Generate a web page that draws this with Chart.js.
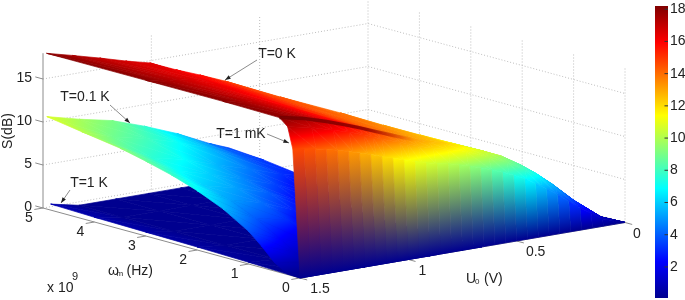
<!DOCTYPE html>
<html lang="en">
<head>
    <meta charset="UTF-8">
    <title>S(dB) surface</title>
    <script src="https://cdn.jsdelivr.net/npm/chart.js"></script>
    <style>
        html, body { margin: 0; padding: 0; background: #fff; }
        #box { position: relative; width: 685px; height: 300px; }
    </style>
</head>
<body>
<div id="box"><canvas id="surfaceChart"></canvas></div>
<script>
// axis ticks
const uTicks = [1.5, 1, 0.5, 0];
const omegaTicks = [0, 1, 2, 3, 4, 5];      // x 10^9 Hz
const sTicks = [0, 5, 10, 15];
const colorbarTicks = [2, 4, 6, 8, 10, 12, 14, 16, 18];
const colorbarRange = [0.07, 18.2];

// steep wall at low frequency: S climbs from 0 at omega = 0 to wallS at wallOmega
const wallU = [1.5, 1.45, 1.4, 1.35, 1.3, 1.25, 1.2, 1.15, 1.1, 1.05, 1, 0.95, 0.9, 0.85, 0.8, 0.75, 0.7, 0.65, 0.6, 0.55, 0.5, 0.45, 0.4, 0.35, 0.3, 0.25, 0.2, 0.15, 0.1, 0.05, 0];
const wallOmega = [0.14, 0.133, 0.127, 0.121, 0.116, 0.111, 0.106, 0.1, 0.094, 0.091, 0.087, 0.083, 0.079, 0.075, 0.071, 0.07, 0.07, 0.07, 0.07, 0.064, 0.059, 0.054, 0.053, 0.052, 0.049, 0.041, 0.033, 0.025, 0.014, 0.007, 0];
const wallS = [14.76, 14.56, 14.37, 14.09, 13.8, 13.44, 13.07, 12.69, 12.25, 11.84, 11.46, 11.04, 10.68, 10.38, 10.15, 9.82, 9.46, 9.03, 8.6, 8.1, 7.55, 6.93, 6.17, 5.35, 4.47, 3.47, 2.5, 1.67, 0.82, 0.41, 0];

// T=0 K / T=1 mK sheet above the wall: one row per U0
const topU = [1.5, 1.395, 1.3, 1.23, 1.164, 1.125, 1.085, 1.005, 0.97, 0.92, 0.855, 0.79, 0.705, 0.6, 0.52, 0.44, 0.37, 0.3, 0.21, 0.1, 0];
const topOmega = [
    [0.14, 0.24, 0.4, 1.5, 3, 4.93],
    [0.126, 0.216, 0.36, 1.5, 3, 4.87],
    [0.116, 0.198, 0.33, 1.75, 3.25, 4.74],
    [0.109, 0.186, 0.31, 1.75, 3.25, 4.53],
    [0.102, 0.174, 0.29, 1.5, 3, 4.34],
    [0.096, 0.165, 0.275, 1.5, 2.75, 4.0],
    [0.093, 0.159, 0.265, 1.25, 2.5, 3.7],
    [0.088, 0.15, 0.25, 1.25, 2.5, 3.55],
    [0.084, 0.144, 0.24, 1, 1.75, 2.62],
    [0.081, 0.138, 0.23, 0.7, 1.15, 1.66],
    [0.075, 0.129, 0.215, 0.5, 0.8, 1.1],
    [0.07, 0.12, 0.2, 0.35, 0.5, 0.66],
    [0.07, 0.12, 0.2, 0.275, 0.35, 0.45],
    [0.07, 0.12, 0.2, 0.235, 0.27, 0.305],
    [0.061, 0.105, 0.175, 0.195, 0.215, 0.24],
    [0.053, 0.09, 0.15, 0.165, 0.175, 0.19],
    [0.053, 0.09, 0.15, 0.165, 0.18, 0.2],
    [0.049, 0.084, 0.14, 0.15, 0.16, 0.175],
    [0.035, 0.06, 0.1, 0.11, 0.12, 0.13],
    [0.014, 0.024, 0.04, 0.043, 0.047, 0.05],
    [0, 0, 0, 0, 0, 0]
];
const topS = [
    [14.76, 17.2, 18, 18.1, 18.1, 18.1],
    [14.35, 16.7, 17.5, 17.5, 17.5, 17.5],
    [13.8, 16, 16.8, 16.9, 17, 17],
    [13.3, 15.5, 16.2, 16.4, 16.6, 16.7],
    [12.8, 14.9, 15.6, 15.8, 16.2, 16.5],
    [12.5, 14.5, 15.2, 15.4, 15.8, 16.1],
    [12.1, 14.1, 14.8, 15, 15.4, 15.8],
    [11.5, 13.4, 14, 14.3, 14.7, 15],
    [11.2, 13.1, 13.7, 14, 14.3, 14.5],
    [10.8, 12.6, 13.2, 13.5, 13.8, 14],
    [10.4, 12.1, 12.7, 12.9, 13.1, 13.2],
    [10.1, 11.7, 12.3, 12.4, 12.45, 12.5],
    [9.5, 11.1, 11.6, 11.6, 11.6, 11.6],
    [8.6, 10, 10.5, 10.5, 10.5, 10.5],
    [7.8, 9.07, 9.5, 9.55, 9.6, 9.6],
    [6.8, 7.85, 8.2, 8.25, 8.3, 8.3],
    [5.7, 6.64, 6.95, 7, 7, 7],
    [4.47, 5.2, 5.45, 5.5, 5.5, 5.5],
    [2.67, 3.1, 3.25, 3.3, 3.3, 3.3],
    [0.82, 0.955, 1, 1, 1, 1],
    [0, 0, 0, 0, 0, 0]
];

// darker crest where the T=1 mK sheet leaves the T=0 K one
const crestU = [1.5, 1.395, 1.3, 1.23, 1.164, 1.085, 1.005, 0.92];
const crestOmega = [0.4, 0.36, 0.33, 0.31, 0.29, 0.265, 0.25, 0.23];
const crestS = [18, 17.5, 16.8, 16.2, 15.6, 14.8, 14, 13.2];

// T=0.1 K sheet
const midU = [1.5, 1.35, 1.2, 1.05, 0.9, 0.75, 0.66];
const midOmega = [0, 0.25, 0.5, 0.75, 1, 1.5, 2, 2.5, 3, 3.5, 4.25, 4.925];
const midS = [
    [0, 0.1, 1, 2.5, 3.8, 5.6, 6.9, 7.9, 8.7, 9.4, 10.1, 10.75],
    [0, 0, 0.4, 1.2, 2.2, 3.9, 5.2, 6, 6.9, 7.6, 8.8, 9.8],
    [0, 0, 0, 0.3, 1, 3, 4.2, 5.1, 5.9, 6.8, 8, 9],
    [0, 0, 0, 0, 0.3, 1.2, 2.7, 3.9, 4.7, 5.5, 6.9, 7.7],
    [0, 0, 0, 0, 0, 0.4, 1.1, 2.2, 3.4, 4.4, 5.5, 6.2],
    [0, 0, 0, 0, 0, 0, 0.4, 1, 1.9, 3.1, 3.9, 4.4],
    [0, 0, 0, 0, 0, 0, 0, 0.3, 1.5, 2.6, 3.2, 3.5]
];

// T=1 K sheet
const lowU = [1.5, 1.37, 1.2, 1.05, 0.9, 0.86];
const lowOmega = [0, 1, 2, 3, 4, 4.85];
const lowS = [
    [0, 0.2, 0.35, 0.45, 0.55, 0.7],
    [0, 0, 0, 0, 0, 0],
    [0, 0, 0, 0, 0, 0],
    [0, 0, 0, 0, 0, 0],
    [0, 0, 0, 0, 0, 0],
    [0, 0, 0, 0, 0, 0]
];

const textFont = '"Liberation Sans", Arial, sans-serif';
const textColor = '#222';
const axisColor = '#8c8c8c';
const gridColor = '#bdbdbd';

// oblique view of the box, results are in x / y scale units
function project(u0, omega, s) {
    const a = (1.5 - u0) / 1.5;
    const b = omega / 5;
    return {
        x: 300 + 325 * a - 257 * b,
        y: 278 - 55.5 * a - 70 * b - 8.6 * s
    };
}

// matlab jet between the colorbar limits
const jetStops = [[0, [0, 0, 143]], [0.125, [0, 0, 255]], [0.375, [0, 255, 255]], [0.625, [255, 255, 0]], [0.875, [255, 0, 0]], [1, [128, 0, 0]]];
function jet(s) {
    const t = Math.min(1, Math.max(0, s / colorbarRange[1]));
    for (let i = 1; i < jetStops.length; i++) {
        if (t <= jetStops[i][0]) {
            const [t0, c0] = jetStops[i - 1];
            const [t1, c1] = jetStops[i];
            const f = (t - t0) / (t1 - t0);
            return 'rgb(' + c0.map((c, k) => Math.round(c + (c1[k] - c) * f)).join(',') + ')';
        }
    }
    return 'rgb(128,0,0)';
}

function toPixels(chart, pts) {
    const xs = chart.scales.x, ys = chart.scales.y;
    const p = pts.map(q => ({ x: xs.getPixelForValue(q.x), y: ys.getPixelForValue(q.y) }));
    // scales have no size yet on the first pass
    return p.every(q => Number.isFinite(q.x) && Number.isFinite(q.y)) ? p : null;
}

// linear gradient that follows S across one triangle
function triangleFill(chart, pts, vals) {
    const p = toPixels(chart, pts);
    const zMin = Math.min(...vals), zMax = Math.max(...vals);
    if (!p) return jet(zMin);
    const det = (p[1].x - p[0].x) * (p[2].y - p[0].y) - (p[2].x - p[0].x) * (p[1].y - p[0].y);
    if (Math.abs(det) < 1e-6 || zMax - zMin < 1e-3) {
        return jet((zMin + zMax) / 2);
    }
    const gx = ((vals[1] - vals[0]) * (p[2].y - p[0].y) - (vals[2] - vals[0]) * (p[1].y - p[0].y)) / det;
    const gy = ((p[1].x - p[0].x) * (vals[2] - vals[0]) - (p[2].x - p[0].x) * (vals[1] - vals[0])) / det;
    const k = (zMax - zMin) / (gx * gx + gy * gy);
    const start = p[vals.indexOf(zMin)];
    const grad = chart.ctx.createLinearGradient(start.x, start.y, start.x + gx * k, start.y + gy * k);
    grad.addColorStop(0, jet(zMin));
    jetStops.forEach(st => {
        const z = st[0] * colorbarRange[1];
        if (z > zMin && z < zMax) grad.addColorStop((z - zMin) / (zMax - zMin), jet(z));
    });
    grad.addColorStop(1, jet(zMax));
    return grad;
}

// the tall wall cells: straight blend from the foot to the cell's top colour
function stripFill(chart, pts, topValue) {
    const p = toPixels(chart, pts);
    if (!p) return jet(topValue);
    const foot = { x: (p[0].x + p[1].x) / 2, y: (p[0].y + p[1].y) / 2 };
    const head = { x: (p[2].x + p[3].x) / 2, y: (p[2].y + p[3].y) / 2 };
    const ex = p[1].x - p[0].x, ey = p[1].y - p[0].y;
    const len = Math.hypot(ex, ey);
    if (len < 1e-6 || Math.hypot(head.x - foot.x, head.y - foot.y) < 1e-6) return jet(topValue);
    const nx = -ey / len, ny = ex / len;
    const d = (head.x - foot.x) * nx + (head.y - foot.y) * ny;
    const grad = chart.ctx.createLinearGradient(foot.x, foot.y, foot.x + nx * d, foot.y + ny * d);
    grad.addColorStop(0, jet(0));
    grad.addColorStop(1, jet(topValue));
    return grad;
}

function cellDataset(pts, paint) {
    return {
        data: pts.concat([pts[0]]),
        showLine: true,
        fill: 'shape',
        tension: 0,
        borderWidth: 0.7,
        borderJoinStyle: 'round',
        backgroundColor: paint,
        borderColor: paint,
        pointRadius: 0,
        pointBackgroundColor: 'transparent',
        pointBorderColor: 'transparent',
        clip: false
    };
}

function triangleDataset(a, b, c) {
    const pts = [project(...a), project(...b), project(...c)];
    const vals = [a[2], b[2], c[2]];
    return cellDataset(pts, ctx => triangleFill(ctx.chart, pts, vals));
}

// far cells first so that the near ones cover them
function sheetDatasets(uList, omegaAt, sRows) {
    const out = [];
    for (let j = sRows[0].length - 2; j >= 0; j--) {
        for (let i = uList.length - 2; i >= 0; i--) {
            const a = [uList[i], omegaAt(i, j), sRows[i][j]];
            const b = [uList[i + 1], omegaAt(i + 1, j), sRows[i + 1][j]];
            const c = [uList[i + 1], omegaAt(i + 1, j + 1), sRows[i + 1][j + 1]];
            const d = [uList[i], omegaAt(i, j + 1), sRows[i][j + 1]];
            out.push(triangleDataset(b, c, d));
            out.push(triangleDataset(a, b, d));
        }
    }
    return out;
}

function wallDatasets() {
    const out = [];
    for (let i = wallU.length - 2; i >= 0; i--) {
        const pts = [
            project(wallU[i], 0, 0),
            project(wallU[i + 1], 0, 0),
            project(wallU[i + 1], wallOmega[i + 1], wallS[i + 1]),
            project(wallU[i], wallOmega[i], wallS[i])
        ];
        const top = (wallS[i] + wallS[i + 1]) / 2;
        out.push(cellDataset(pts, ctx => stripFill(ctx.chart, pts, top)));
    }
    return out;
}

function lineDataset(points, color, dash, width) {
    return {
        data: points,
        showLine: true,
        fill: false,
        tension: 0,
        borderColor: color,
        borderWidth: width || 1,
        borderDash: dash || [],
        pointRadius: 0,
        clip: false
    };
}

const grid = [];
const dots = [1, 2];
sTicks.filter(s => s > 0).forEach(s => {
    grid.push(lineDataset([project(1.5, 5, s), project(0, 5, s), project(0, 0, s)], gridColor, dots));
});
uTicks.filter(v => v < 1.5).forEach(v => {
    grid.push(lineDataset([project(v, 5, 0), project(v, 5, 18)], gridColor, dots));
});
omegaTicks.filter(v => v < 5).forEach(v => {
    grid.push(lineDataset([project(0, v, 0), project(0, v, 18)], gridColor, dots));
});
grid.push(lineDataset([project(1.5, 5, 0), project(0, 5, 0), project(0, 0, 0)], gridColor, dots));

const axes = [
    lineDataset([project(1.5, 5, 0), project(1.5, 5, 18)], axisColor),
    lineDataset([project(1.5, 5, 0), project(1.5, 0, 0), project(0, 0, 0)], axisColor)
];
sTicks.forEach(s => axes.push(lineDataset([project(1.5, 5, s), project(1.5, 5.15, s)], axisColor)));
omegaTicks.forEach(v => axes.push(lineDataset([project(1.5, v, 0), project(1.54, v, 0)], axisColor)));
uTicks.forEach(v => axes.push(lineDataset([project(v, 0, 0), project(v, -0.14, 0)], axisColor)));

const lowSheet = sheetDatasets(lowU, (i, j) => lowOmega[j], lowS);
const midSheet = sheetDatasets(midU, (i, j) => midOmega[j], midS);
const topSheet = sheetDatasets(topU, (i, j) => topOmega[i][j], topS);
const wallSheet = wallDatasets();

// crest fades out towards low U0
const crestPoints = crestU.map((v, i) => project(v, crestOmega[i], crestS[i]));
const crest = lineDataset(crestPoints, ctx => {
    const xs = ctx.chart.scales.x;
    const x0 = xs.getPixelForValue(crestPoints[0].x), x1 = xs.getPixelForValue(crestPoints[crestPoints.length - 1].x);
    if (!Number.isFinite(x0) || !Number.isFinite(x1)) return 'rgba(120,0,0,0)';
    const g = ctx.chart.ctx.createLinearGradient(x0, 0, x1, 0);
    g.addColorStop(0, 'rgba(115,0,0,0.85)');
    g.addColorStop(0.65, 'rgba(125,0,0,0.75)');
    g.addColorStop(1, 'rgba(170,0,0,0)');
    return g;
}, [], 3.5);

// colorbar on its own y axis
const barX = [655, 668];
const barCorners = [
    { x: barX[0], y: colorbarRange[0] }, { x: barX[1], y: colorbarRange[0] },
    { x: barX[1], y: colorbarRange[1] }, { x: barX[0], y: colorbarRange[1] }
];
const colorbar = {
    data: barCorners.concat([barCorners[0]]),
    yAxisID: 'cb',
    showLine: true,
    fill: 'shape',
    tension: 0,
    borderWidth: 0,
    pointRadius: 0,
    clip: false,
    backgroundColor: ctx => {
        const sc = ctx.chart.scales.cb;
        const y0 = sc.getPixelForValue(colorbarRange[0]), y1 = sc.getPixelForValue(colorbarRange[1]);
        if (!Number.isFinite(y0) || !Number.isFinite(y1)) return '#00008f';
        const g = ctx.chart.ctx.createLinearGradient(0, y0, 0, y1);
        jetStops.forEach(st => g.addColorStop(st[0], jet(st[0] * colorbarRange[1])));
        return g;
    }
};
const barTicks = colorbarTicks.map(v => Object.assign(
    lineDataset([{ x: barX[1] - 3.5, y: v }, { x: barX[1], y: v }], '#333'), { yAxisID: 'cb' }));

// first dataset ends up on top, so reverse the painting order
const allDatasets = [...grid, ...axes, ...lowSheet, ...midSheet, ...topSheet, ...wallSheet, crest, colorbar, ...barTicks].reverse();

// text and leaders that chart.js has no element for
const textPlugin = {
    id: 'boxText',
    afterDraw(chart) {
        const ctx = chart.ctx;
        const px = chart.scales.x, py = chart.scales.y;
        const put = (str, x, y, size, align) => {
            ctx.font = (size || 14) + 'px ' + textFont;
            ctx.textAlign = align || 'center';
            ctx.textBaseline = 'middle';
            ctx.fillStyle = textColor;
            ctx.fillText(str, px.getPixelForValue(x), py.getPixelForValue(y));
        };
        sTicks.forEach(s => {
            const pos = project(1.5, 5, s);
            put(String(s), pos.x - 11, pos.y - 1, 14, 'right');
        });
        omegaTicks.forEach(v => {
            const pos = project(1.5, v, 0);
            put(String(v), pos.x - 14, pos.y + 10.5);
        });
        const uLabelShift = [20, 14, 19, 12];
        uTicks.forEach((v, i) => {
            const pos = project(v, 0, 0);
            put(String(v), pos.x + uLabelShift[i], pos.y + 11.5);
        });

        ctx.save();
        ctx.translate(px.getPixelForValue(8), py.getPixelForValue(131));
        ctx.rotate(-Math.PI / 2);
        ctx.font = '14px ' + textFont;
        ctx.textAlign = 'center';
        ctx.textBaseline = 'middle';
        ctx.fillStyle = textColor;
        ctx.fillText('S(dB)', 0, 0);
        ctx.restore();

        put('\u03C9', 108, 271, 14, 'left');
        put('m', 116.5, 274, 8, 'left');
        put('(Hz)', 126.5, 271, 14, 'left');
        put('x 10', 47, 288, 14, 'left');
        put('9', 75, 277, 11, 'center');
        put('U', 466, 279, 14, 'left');
        put('0', 475, 282, 8, 'left');
        put('(V)', 484, 279, 14, 'left');

        const notes = [
            ['T=0 K', 277, 54, [257, 60], [225, 80]],
            ['T=0.1 K', 85, 97, [110, 105], [130, 123]],
            ['T=1 mK', 241, 134, [267, 134], [289, 143]],
            ['T=1 K', 89, 183, [70, 190], [61, 203]]
        ];
        notes.forEach(([label, x, y, from, to]) => {
            put(label, x, y, 14);
            const x0 = px.getPixelForValue(from[0]), y0 = py.getPixelForValue(from[1]);
            const x1 = px.getPixelForValue(to[0]), y1 = py.getPixelForValue(to[1]);
            const ang = Math.atan2(y1 - y0, x1 - x0);
            ctx.strokeStyle = '#6e6e6e';
            ctx.lineWidth = 0.8;
            ctx.beginPath();
            ctx.moveTo(x0, y0);
            ctx.lineTo(x1, y1);
            ctx.stroke();
            ctx.fillStyle = '#222';
            ctx.beginPath();
            ctx.moveTo(x1, y1);
            ctx.lineTo(x1 - 6 * Math.cos(ang - 0.35), y1 - 6 * Math.sin(ang - 0.35));
            ctx.lineTo(x1 - 6 * Math.cos(ang + 0.35), y1 - 6 * Math.sin(ang + 0.35));
            ctx.closePath();
            ctx.fill();
        });
    }
};

new Chart(document.getElementById('surfaceChart'), {
    type: 'scatter',
    data: { datasets: allDatasets },
    plugins: [textPlugin],
    options: {
        responsive: true,
        maintainAspectRatio: false,
        animation: false,
        events: [],
        layout: { padding: { left: 0, right: 0, top: 6, bottom: 2 } },
        plugins: { legend: { display: false }, tooltip: { enabled: false } },
        scales: {
            x: { type: 'linear', display: false, min: 0, max: 668 },
            y: { type: 'linear', display: false, min: 6, max: 298, reverse: true },
            cb: {
                type: 'linear',
                position: 'right',
                min: colorbarRange[0],
                max: colorbarRange[1],
                afterBuildTicks: ax => { ax.ticks = colorbarTicks.map(v => ({ value: v })); },
                afterFit: ax => {
                    ax.width = 17;
                    ax.paddingTop = 0;
                    ax.paddingBottom = 0;
                },
                grid: { drawOnChartArea: false, drawTicks: false },
                border: { display: false },
                ticks: {
                    padding: 2,
                    color: textColor,
                    font: { family: textFont, size: 14 }
                }
            }
        }
    }
});
</script>
</body>
</html>
